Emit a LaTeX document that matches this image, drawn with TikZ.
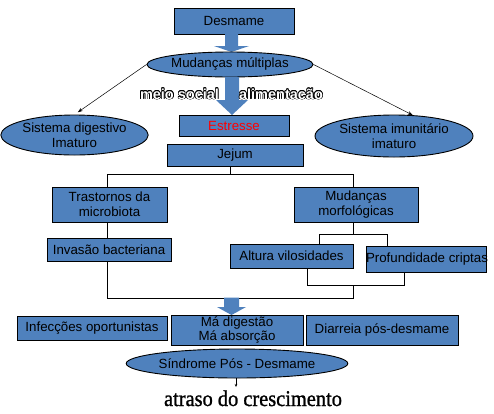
\documentclass[tikz,border=0pt]{standalone}
\usepackage{fontspec}
\setmainfont{Liberation Sans}
\newfontfamily\timesfont[FakeBold=1.2]{Liberation Serif}
\newfontfamily\boldsans{Liberation Sans Bold}
\usetikzlibrary{shapes.geometric,arrows.meta,calc}
\definecolor{boxblue}{RGB}{79,129,189}
\definecolor{estred}{RGB}{255,0,0}
\tikzset{
  txt/.style={font=\fontsize{13.3}{15}\selectfont, align=center, inner sep=0pt},
  box/.style={txt, draw=black, line width=0.9pt, fill=boxblue},
  oval/.style={txt, ellipse, draw=black, line width=0.9pt, fill=boxblue},
  link/.style={draw=black, line width=0.9pt},
  thinarrow/.style={draw=black, line width=0.5pt, -{Stealth[length=5pt,width=3.5pt]}},
  outlfont/.style={font=\boldsans\fontsize{14.5}{16}\selectfont, inner sep=0pt},
}
\newcommand{\barrow}[6]{\fill[boxblue] (#1-#4,#2) -- (#1+#4,#2) -- (#1+#4,#5) -- (#1+#6,#5) -- (#1,#3) -- (#1-#6,#5) -- (#1-#4,#5) -- cycle;}
\newcommand{\outltext}[3]{%
  \foreach \a in {0,30,...,330}{\node[outlfont,text=black] at ($(#1)+(\a:0.6)$) {#3};}
  \node[outlfont,text=white] (#2) at (#1) {#3};}
\begin{document}
\begin{tikzpicture}[x=1pt,y=-1pt]
\fill[white] (0,0) rectangle (494,413);
\useasboundingbox (0,0) rectangle (494,413);

% top part
\node[box, minimum width=120pt, minimum height=26pt] (desmame) at (234,21) {Desmame};
\barrow{231.5}{34}{52}{6.5}{46}{17.5}
\node[oval, minimum width=136pt, minimum height=25pt] (mud) at (230,64.5) {Mudanças múltiplas};
\barrow{232}{77}{115}{7}{100}{16}
\coordinate (msp) at (179.5,94);
\coordinate (alp) at (281,94);
\outltext{msp}{meio}{meio social}
\outltext{alp}{alim}{alimentacão}

\node[oval, minimum width=133pt, minimum height=40pt] (sd) at (74.5,135) {Sistema digestivo\\Imaturo};
\node[oval, minimum width=158pt, minimum height=42pt] (si) at (394,136) {Sistema imunitário\\imaturo};
\draw[thinarrow, shorten >=4pt] (mud.west) -- (sd.north);
\draw[thinarrow] (mud.east) -- (si.48);

\node[box, minimum width=110pt, minimum height=21pt, text=estred] (est) at (234,125.5) {Estresse};
\node[box, minimum width=136pt, minimum height=22pt] (jejum) at (235,155) {Jejum};

% tree
\node[box, minimum width=115pt, minimum height=35pt] (tras) at (109.5,204.5) {Trastornos da\\microbiota};
\node[box, minimum width=124pt, minimum height=35pt] (mm) at (356,204.5) {Mudanças\\morfológicas};
\node[box, minimum width=124pt, minimum height=23pt] (inv) at (109,249.5) {Invasão bacteriana};
\node[box, minimum width=123pt, minimum height=24pt] (alt) at (291.5,256) {Altura vilosidades};
\node[box, minimum width=120pt, minimum height=26pt] (prof) at (426,259) {\phantom{P}};
\node[txt] (proft) at (427,259) {Profundidade criptas};

\coordinate (J) at (230,174);
\coordinate (A) at (107,174);
\coordinate (B) at (353,174);
\coordinate (C) at (319,234);
\coordinate (D) at (387,234);
\coordinate (E) at (307,285);
\coordinate (F) at (404,285);
\coordinate (G) at (353,285);
\coordinate (H) at (107,298);
\draw[link] (J |- jejum.south) -- (J);
\draw[link] (A |- tras.north) |- (B) -- (B |- mm.north);
\draw[link] (A |- tras.south) -- (A |- inv.north);
\draw[link] (B |- mm.south) -- (B |- C);
\draw[link] (C |- alt.north) |- (D) -- (D |- prof.north);
\draw[link] (E |- alt.south) |- (F) -- (F |- prof.south);
\draw[link] (G) -- (G |- H) -- (H) -- (H |- inv.south);

\barrow{231.5}{297.5}{315}{7.5}{307}{14.5}

% bottom
\node[box, minimum width=150pt, minimum height=24pt] (infec) at (92,328) {Infecções oportunistas};
\node[box, minimum width=132pt, minimum height=30pt, font=\fontsize{13.3}{14}\selectfont] (mad) at (237,330) {Má digestão\\Má absorção};
\node[box, minimum width=152pt, minimum height=30pt] (diar) at (382,330) {Diarreia pós-desmame};
\node[oval, minimum width=200pt, minimum height=29pt] (sind) at (237,363.5) {Síndrome Pós - Desmame};
\coordinate (atip) at (236,387);
\draw[draw=black, line width=0.5pt, -{Stealth[length=3pt,width=2.5pt]}] (sind.south -| atip) -- (atip);
\node[inner sep=0pt, anchor=base, font=\timesfont\fontsize{20.4}{22}\selectfont, yscale=1.1] (atraso) at (253,406) {atraso do crescimento};
\end{tikzpicture}
\end{document}
